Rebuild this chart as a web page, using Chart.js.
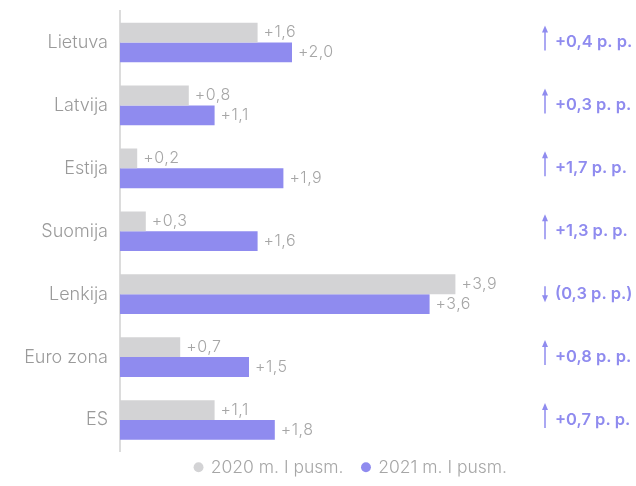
<!DOCTYPE html>
<html lang="lt">
<head>
<meta charset="UTF-8">
<title>Pokytis</title>
<script src="https://cdn.jsdelivr.net/npm/chart.js@4.4.1/dist/chart.umd.min.js"></script>
<style>
    html, body { margin: 0; padding: 0; background: #ffffff; }
    .wrap { position: relative; width: 636px; height: 486px; }
</style>
</head>
<body>
<div class="wrap"><canvas id="chart" width="636" height="486"></canvas></div>
<script>
const countries = ['Lietuva', 'Latvija', 'Estija', 'Suomija', 'Lenkija', 'Euro zona', 'ES'];
const values2020 = [1.6, 0.8, 0.2, 0.3, 3.9, 0.7, 1.1];
const values2021 = [2.0, 1.1, 1.9, 1.6, 3.6, 1.5, 1.8];
const deltas = [0.4, 0.3, 1.7, 1.3, -0.3, 0.8, 0.7];
const seriesNames = ['2020 m. I pusm.', '2021 m. I pusm.'];

const grey = '#d3d3d5';
const purple = '#8f8bef';
const fontFam = 'Inter, "Noto Sans", sans-serif';

function fmt(v) {
    return (v >= 0 ? '+' : '') + v.toFixed(1).replace('.', ',');
}

// value labels next to each bar + the change column on the right
const labelsPlugin = {
    id: 'barLabels',
    afterLayout(chart) {
        // legend sits a bit right of the canvas centre in the original
        chart.legend.left += 39;
        chart.legend.right += 39;
    },
    afterDatasetsDraw(chart) {
        const ctx = chart.ctx;
        ctx.save();
        ctx.font = '300 16px ' + fontFam;
        ctx.letterSpacing = '0.5px';
        ctx.fillStyle = '#a6a6a6';
        ctx.textBaseline = 'middle';
        ctx.textAlign = 'left';
        chart.data.datasets.forEach((ds, i) => {
            chart.getDatasetMeta(i).data.forEach((bar, j) => {
                ctx.fillText(fmt(ds.data[j]), bar.x + 6, bar.y);
            });
        });

        const yScale = chart.scales.y;
        const ax = 545;
        ctx.font = '600 16.5px ' + fontFam;
        ctx.letterSpacing = '0px';
        ctx.fillStyle = purple;
        ctx.strokeStyle = purple;
        ctx.lineWidth = 1.5;
        deltas.forEach((d, j) => {
            const cy = yScale.getPixelForValue(j);
            const up = d >= 0;
            const top = up ? cy - 17 : cy - 8;
            const bot = cy + 8;
            ctx.beginPath();
            ctx.moveTo(ax, up ? bot : top);
            ctx.lineTo(ax, up ? top + 4 : bot - 4);
            ctx.stroke();
            ctx.beginPath();
            if (up) {
                ctx.moveTo(ax, top);
                ctx.lineTo(ax - 3, top + 7);
                ctx.lineTo(ax + 3, top + 7);
            } else {
                ctx.moveTo(ax, bot);
                ctx.lineTo(ax - 3, bot - 7);
                ctx.lineTo(ax + 3, bot - 7);
            }
            ctx.closePath();
            ctx.fill();
            const txt = up ? fmt(d) + ' p. p.' : '(' + Math.abs(d).toFixed(1).replace('.', ',') + ' p. p.)';
            ctx.fillText(txt, 555, cy);
        });
        ctx.restore();
    }
};

new Chart(document.getElementById('chart'), {
    type: 'bar',
    data: {
        labels: countries,
        datasets: [
            { label: seriesNames[0], data: values2020, backgroundColor: grey },
            { label: seriesNames[1], data: values2021, backgroundColor: purple }
        ]
    },
    options: {
        indexAxis: 'y',
        responsive: false,
        animation: false,
        devicePixelRatio: 1,
        barPercentage: 1,
        categoryPercentage: 0.63,
        layout: { padding: { left: 0, top: 11, right: 0, bottom: 0 } },
        scales: {
            x: { display: false, min: 0, max: 6 },
            y: {
                afterFit(s) {
                    s.width = 120;
                    s.paddingTop = 0;
                    s.paddingBottom = 0;
                },
                grid: { display: false, drawTicks: false },
                border: { display: true, color: '#dcdcdc', width: 2 },
                ticks: {
                    color: '#9a9a9a',
                    padding: 12,
                    font: { family: fontFam, size: 18, weight: '300' }
                }
            }
        },
        plugins: {
            tooltip: { enabled: false },
            legend: {
                position: 'bottom',
                labels: {
                    usePointStyle: true,
                    pointStyle: 'circle',
                    boxWidth: 7,
                    boxHeight: 7,
                    padding: 7,
                    color: '#a6a6a6',
                    font: { family: fontFam, size: 17.5, weight: '300' },
                    generateLabels(chart) {
                        const items = Chart.defaults.plugins.legend.labels.generateLabels(chart);
                        items.forEach(it => { it.text = it.text + '\u2002\u2009'; });
                        return items;
                    }
                }
            }
        }
    },
    plugins: [labelsPlugin]
});
</script>
</body>
</html>
